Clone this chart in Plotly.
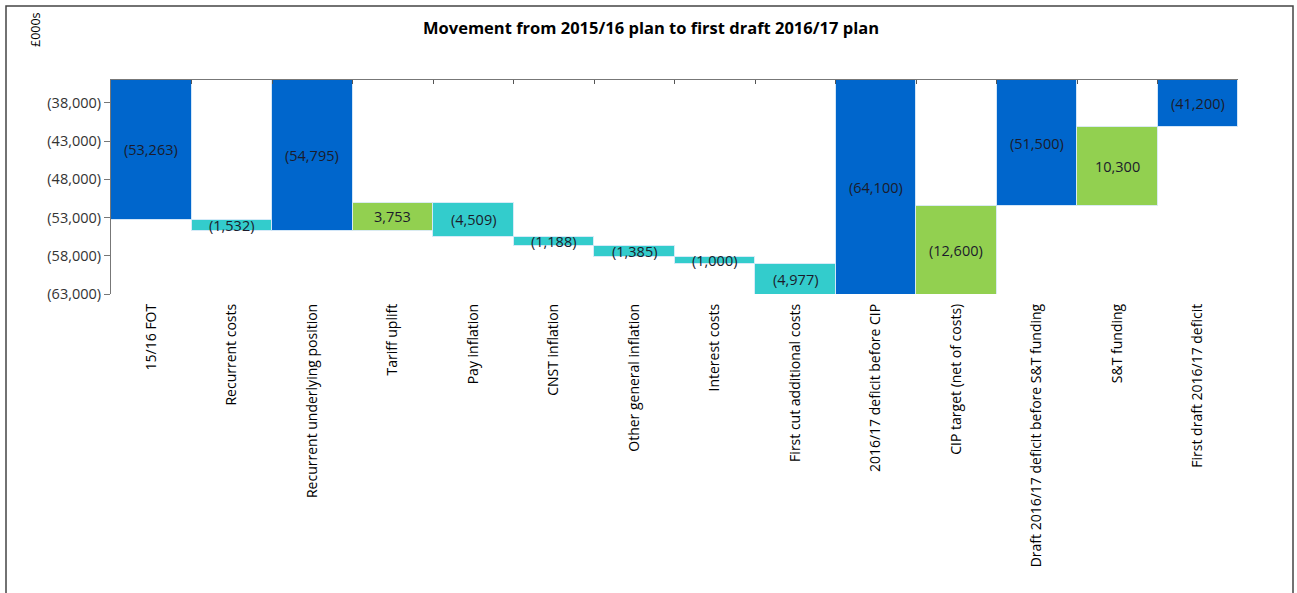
import plotly.graph_objects as go

categories = ["15/16 FOT", "Recurrent costs", "Recurrent underlying position", "Tariff uplift",
              "Pay inflation", "CNST inflation", "Other general inflation", "Interest costs",
              "First cut additional costs", "2016/17 deficit before CIP", "CIP target (net of costs)",
              "Draft 2016/17 deficit before S&T funding", "S&T funding", "First draft 2016/17 deficit"]
measure = ["total", "relative", "total", "relative", "relative", "relative", "relative", "relative",
           "relative", "total", "relative", "total", "relative", "total"]
values = [-53263, -1532, -54795, 3753, -4509, -1188, -1385, -1000, -4977, -64100, 12600, -51500, 10300, -41200]
data_labels = ["(53,263)", "(1,532)", "(54,795)", "3,753", "(4,509)", "(1,188)", "(1,385)", "(1,000)",
               "(4,977)", "(64,100)", "(12,600)", "(51,500)", "10,300", "(41,200)"]
y_ticks = [-38000, -43000, -48000, -53000, -58000, -63000]
y_tick_labels = ["(38,000)", "(43,000)", "(48,000)", "(53,000)", "(58,000)", "(63,000)"]

BLUE, CYAN, GREEN = "#0066CC", "#33CCCC", "#92D050"
Y_RANGE = [-63000, -35000]

bases, heights, colors = [], [], []
running = 0
for m, v in zip(measure, values):
    if m == "total":
        bases.append(0); heights.append(v); colors.append(BLUE); running = v
    else:
        bases.append(running); heights.append(v); colors.append(GREEN if v > 0 else CYAN); running += v

fig = go.Figure()
fig.add_trace(go.Bar(x=categories, y=heights, base=bases,
                     marker=dict(color=colors, line=dict(color="rgba(220,235,250,0.9)", width=1)),
                     width=1.0, hoverinfo="skip", showlegend=False))

# invisible trace for top axis
fig.add_trace(go.Scatter(x=[-0.5, len(categories) - 0.5], y=[Y_RANGE[1], Y_RANGE[1]], xaxis="x2", mode="lines",
                         line=dict(width=0), hoverinfo="skip", showlegend=False))

for i, (b, h, t) in enumerate(zip(bases, heights, data_labels)):
    lo, hi = sorted([b, b + h])
    lo, hi = max(lo, Y_RANGE[0]), min(hi, Y_RANGE[1])
    fig.add_annotation(x=categories[i], y=(lo + hi) / 2, text=t, showarrow=False,
                       font=dict(family="Open Sans", size=14.5, color="#1b1b2b"))

fig.update_layout(
    width=1297, height=593,
    margin=dict(l=111, r=59, t=80, b=299),
    paper_bgcolor="white", plot_bgcolor="white",
    bargap=0,
    title=dict(text="<b>Movement from 2015/16 plan to first draft 2016/17 plan</b>", x=651 / 1297, xanchor="center",
               xref="container", y=1 - 28 / 593, yanchor="middle",
               font=dict(family="Open Sans", size=16.5, color="black")),
    xaxis=dict(type="category", range=[-0.5, len(categories) - 0.5], tickangle=-90, showline=False, ticks="",
               ticklabelstandoff=6,
               tickfont=dict(family="Open Sans", size=14, color="black"), showgrid=False, zeroline=False),
    xaxis2=dict(overlaying="x", side="top", range=[-0.5, len(categories) - 0.5], showline=True, linecolor="#777",
                linewidth=1, ticks="inside", ticklen=4, tickcolor="#555",
                tickvals=[i - 0.5 for i in range(len(categories) + 1)], showticklabels=False, showgrid=False,
                zeroline=False, anchor="y"),
    yaxis=dict(range=Y_RANGE, tickvals=y_ticks, ticktext=y_tick_labels, showline=True, linecolor="#777",
               linewidth=1, ticks="outside", ticklen=6, tickcolor="#777", showgrid=False, zeroline=False,
               tickfont=dict(family="Open Sans", size=14.5, color="#333")),
)

fig.add_annotation(text="£000s", xref="paper", yref="paper", x=(35 - 111) / 1127, y=1 + (80 - 30) / 214,
                   xanchor="center", yanchor="middle",
                   textangle=-90, showarrow=False, font=dict(family="Open Sans", size=12.5, color="black"))

fig.add_shape(type="rect", xref="paper", yref="paper", x0=(6 - 111) / 1127, x1=(1293 - 111) / 1127,
              y0=1 + (80 - 600) / 214, y1=1 + (80 - 6) / 214, line=dict(color="#444", width=1.5), layer="below")

fig.write_html("out.html")
